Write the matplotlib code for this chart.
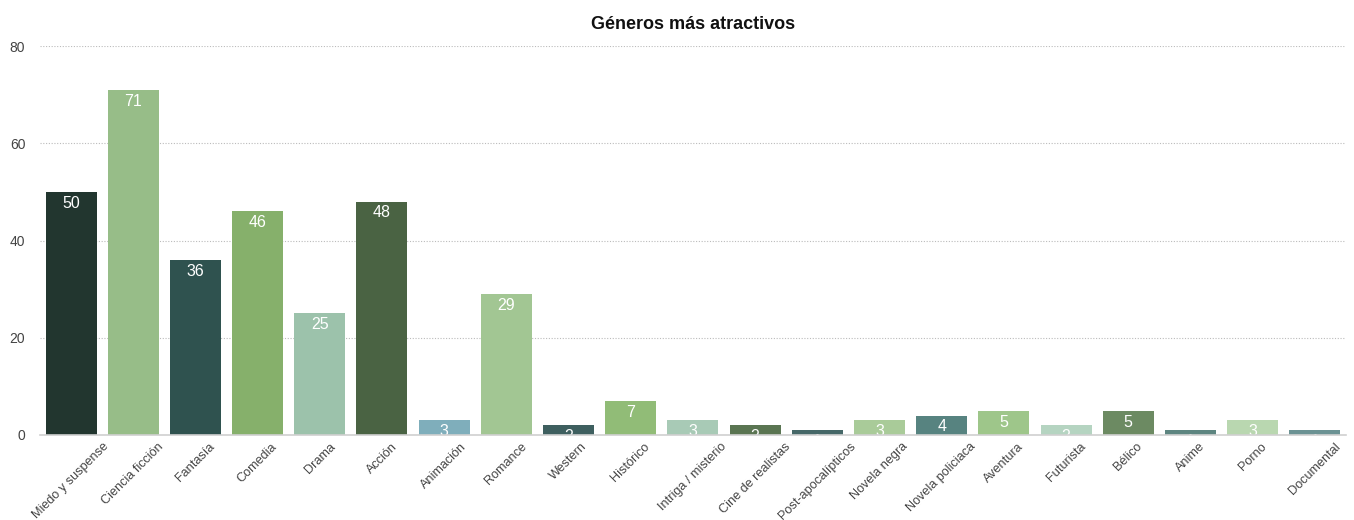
import numpy as np
import matplotlib
matplotlib.use('Agg')
import matplotlib.pyplot as plt

plt.rcParams['font.family'] = ['Liberation Sans', 'DejaVu Sans']

## data
generos = ['Miedo y suspense', 'Ciencia ficción', 'Fantasía', 'Comedia', 'Drama', 'Acción',
           'Animación', 'Romance', 'Western', 'Histórico', 'Intriga / misterio',
           'Cine de realistas', 'Post-apocalípticos', 'Novela negra', 'Novela policiaca',
           'Aventura', 'Futurista', 'Bélico', 'Anime', 'Porno', 'Documental']
votos = [50, 71, 36, 46, 25, 48, 3, 29, 2, 7, 3, 2, 1, 3, 4, 5, 2, 5, 1, 3, 1]
colores = ['#22362f', '#97bd88', '#2f524f', '#86b06b', '#9cc2ab', '#4a6343',
           '#7faebb', '#a2c693', '#3e5f5f', '#91bc77', '#a8cab6', '#5a7552',
           '#466868', '#a9cb99', '#578380', '#9ec68a', '#b5d4c1', '#6c8a62',
           '#5d8580', '#b9d7b0', '#6b9293']
yticks = [0, 20, 40, 60, 80]

fig = plt.figure(figsize=(13.54, 5.2), dpi=100, facecolor='#FFFFFF')
ax = fig.add_axes([0.0295, 0.1635, 0.9645, 0.748])

x = np.arange(len(generos))
bars = ax.bar(x, votos, width=0.82, color=colores, zorder=3)

## value labels inside the bars (clipped like the original)
for b, v in zip(bars, votos):
    t = ax.text(b.get_x() + b.get_width() / 2, v - 0.8, str(v), ha='center', va='top',
                color='white', fontsize=11.5, zorder=4)
    t.set_clip_path(b)

ax.set_xlim(-0.5, 20.5)
ax.set_ylim(0, 80)
ax.set_yticks(yticks)
ax.yaxis.grid(True, linestyle=(0, (1, 1.5)), color='#bbbbbb', linewidth=0.8, zorder=0)
for s in ['top', 'right', 'left']:
    ax.spines[s].set_visible(False)
ax.spines['bottom'].set_color('#d0d0d0')
ax.spines['bottom'].set_linewidth(1.2)
ax.spines['bottom'].set_zorder(5)
ax.tick_params(axis='y', length=0, pad=10.5, labelsize=10, labelcolor='#444444')
ax.tick_params(axis='x', length=0, pad=4, labelsize=9.1, labelcolor='#444444')

ax.set_xticks(x)
ax.set_xticklabels(generos, rotation=45, ha='center', va='top')

ax.set_title('Géneros más atractivos', fontsize=13, fontweight='bold', color='#111111', pad=12)

fig.savefig('out.png', dpi=100, facecolor='#FFFFFF')
